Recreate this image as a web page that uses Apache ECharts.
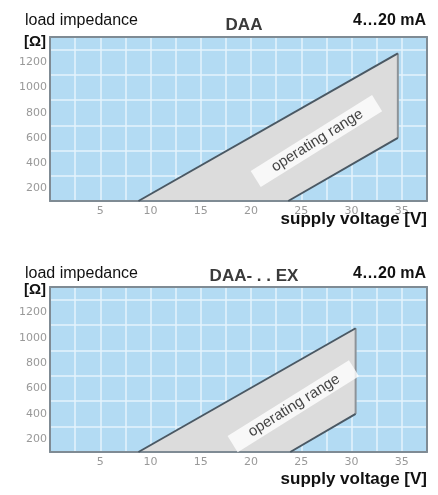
<!DOCTYPE html>
<html><head><meta charset="utf-8">
<script src="https://cdn.jsdelivr.net/npm/echarts@6/dist/echarts.min.js"></script>
<style>html,body{margin:0;padding:0;background:#fff}#c{width:438px;height:495px}</style>
</head><body><div id="c"></div>
<script>
// axis ticks
const xTickLabels = [5, 10, 15, 20, 25, 30, 35];
const yTickLabels = [200, 400, 600, 800, 1000, 1200];
const yGridValues = [300, 500, 700, 900, 1100, 1300];
// chart 1: DAA  (supply voltage [V], load impedance [Ω])
const daaUpper = [[8.8, 100], [34.6, 1270]];
const daaLower = [[23.7, 100], [34.6, 600]];
const daaLabelAt = [26.5, 575];
// chart 2: DAA-..EX
const exUpper = [[8.8, 100], [30.4, 1075]];
const exLower = [[23.9, 100], [30.4, 400]];
const exLabelAt = [24.2, 461];

const chart = echarts.init(document.getElementById('c'));
const FONT = '"Liberation Sans", Arial, sans-serif';
const GRID_BG = '#b3dbf3', BORDER = '#7f8b94', SPLIT = '#e4f3fc';
const LBL = {color: '#999999', fontSize: 11, fontFamily: '"DejaVu Sans", sans-serif'};

function grid(top, height) {
  return {left: 50, top: top, width: 377, height: height, show: true,
    backgroundColor: GRID_BG, borderWidth: 0};
}
function xAxis(i, pos) {
  const main = pos === 'bottom';
  return {type: 'value', gridIndex: i, position: pos, min: 0, max: 37.5, interval: 2.5,
    axisLine: {show: true, onZero: false, lineStyle: {color: BORDER, width: 2}},
    axisTick: {show: false},
    axisLabel: Object.assign({show: main, customValues: xTickLabels, margin: 5}, LBL),
    splitLine: {show: main, lineStyle: {color: SPLIT, width: 1.5}}};
}
function yAxis(i, pos) {
  const main = pos === 'left';
  return {type: 'value', gridIndex: i, position: pos, min: 100, max: 1400, interval: 100,
    axisLine: {show: true, onZero: false, lineStyle: {color: BORDER, width: 2}},
    axisTick: {show: false, customValues: yGridValues},
    axisLabel: Object.assign({show: main, customValues: yTickLabels, margin: 3,
      formatter: function (v) { return String(v); }}, LBL),
    splitLine: {show: main, lineStyle: {color: SPLIT, width: 1.5}}};
}
function shape(i, upper, lower) {
  return {type: 'custom', xAxisIndex: i, yAxisIndex: i, z: 3,
    data: [upper[0]],
    renderItem: function (params, api) {
      const a = api.coord(upper[0]), b = api.coord(upper[1]);
      const c = api.coord(lower[1]), d = api.coord(lower[0]);
      return {type: 'group', children: [
        {type: 'polygon', shape: {points: [a, b, c, d]}, style: {fill: '#dcdcdc'}},
        {type: 'line', shape: {x1: b[0], y1: b[1], x2: c[0], y2: c[1]},
          style: {stroke: '#8d9398', lineWidth: 2}},
        {type: 'line', shape: {x1: a[0] - 1, y1: a[1], x2: d[0] + 1, y2: d[1]},
          style: {stroke: BORDER, lineWidth: 2}},
        {type: 'line', shape: {x1: a[0], y1: a[1], x2: b[0], y2: b[1]},
          style: {stroke: '#4a5863', lineWidth: 2}},
        {type: 'line', shape: {x1: d[0], y1: d[1], x2: c[0], y2: c[1]},
          style: {stroke: '#4a5863', lineWidth: 2}}
      ]};
    }};
}
function label(i, at) {
  return {type: 'scatter', xAxisIndex: i, yAxisIndex: i, z: 5, symbolSize: 0,
    data: [at], silent: true,
    label: {show: true, position: 'inside', formatter: 'operating range', rotate: 32,
      backgroundColor: '#ffffff', padding: [2, 18, 1, 20], color: '#111',
      fontSize: 15, fontFamily: FONT, lineHeight: 16}};
}
function txt(x, y, text, size, weight, align, color) {
  return {type: 'text', x: x, y: y, z: 10, style: {text: text, fill: color || '#111',
    font: weight + ' ' + size + 'px ' + FONT, textAlign: align, textVerticalAlign: 'middle'}};
}

chart.setOption({
  animation: false,
  grid: [grid(37, 164), grid(287, 165)],
  xAxis: [xAxis(0, 'bottom'), xAxis(1, 'bottom'), xAxis(0, 'top'), xAxis(1, 'top')],
  yAxis: [yAxis(0, 'left'), yAxis(1, 'left'), yAxis(0, 'right'), yAxis(1, 'right')],
  series: [shape(0, daaUpper, daaLower), label(0, daaLabelAt),
           shape(1, exUpper, exLower), label(1, exLabelAt)],
  graphic: [
    txt(25, 21, 'load impedance', 16, 'normal', 'left'),
    txt(244, 25, 'DAA', 17, 'bold', 'center', '#3a3a3a'),
    txt(426, 21, '4\u202620 mA', 16, 'bold', 'right'),
    txt(24, 42, '[Ω]', 15, 'bold', 'left'),
    txt(427, 219, 'supply voltage [V]', 17, 'bold', 'right'),
    txt(25, 274, 'load impedance', 16, 'normal', 'left'),
    txt(254, 276, 'DAA- . . EX', 17, 'bold', 'center', '#3a3a3a'),
    txt(426, 274, '4\u202620 mA', 16, 'bold', 'right'),
    txt(24, 290, '[Ω]', 15, 'bold', 'left'),
    txt(427, 479, 'supply voltage [V]', 17, 'bold', 'right')
  ]
});
</script></body></html>
